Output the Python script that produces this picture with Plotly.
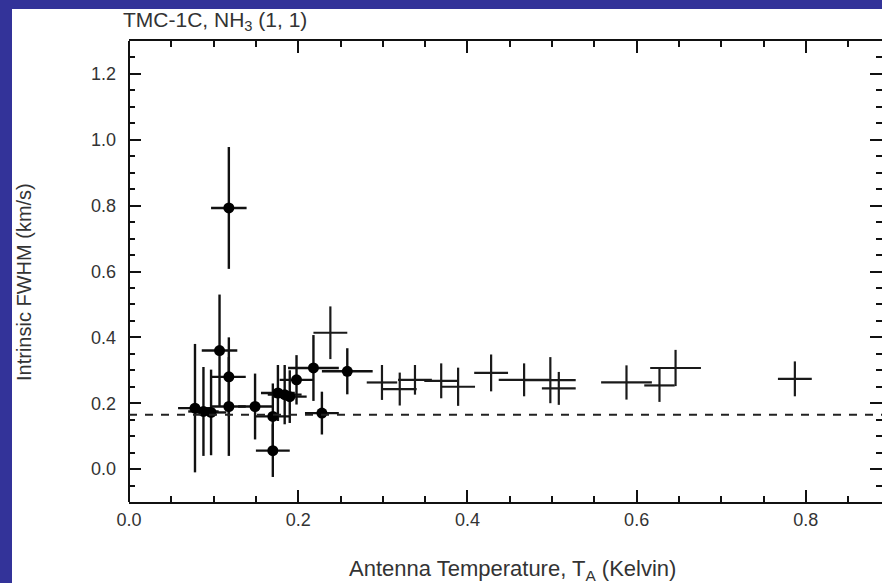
import plotly.graph_objects as go

# Filled points (with markers)
pt_x    = [0.078, 0.088, 0.097, 0.107, 0.118, 0.118, 0.118, 0.149, 0.170, 0.170, 0.176, 0.184, 0.190, 0.198, 0.218, 0.228, 0.258]
pt_y    = [0.185, 0.175, 0.172, 0.360, 0.280, 0.190, 0.793, 0.190, 0.160, 0.056, 0.231, 0.226, 0.220, 0.271, 0.307, 0.170, 0.297]
pt_xerr = [0.020, 0.018, 0.018, 0.021, 0.020, 0.020, 0.021, 0.020, 0.020, 0.020, 0.020, 0.020, 0.020, 0.020, 0.030, 0.020, 0.030]
pt_yerr = [0.195, 0.135, 0.130, 0.170, 0.120, 0.150, 0.185, 0.100, 0.100, 0.080, 0.085, 0.090, 0.080, 0.075, 0.100, 0.065, 0.070]

# Crosses (no markers)
cr_x    = [0.238, 0.299, 0.320, 0.338, 0.369, 0.389, 0.428, 0.467, 0.498, 0.508, 0.588, 0.627, 0.646, 0.787]
cr_y    = [0.414, 0.263, 0.243, 0.271, 0.268, 0.250, 0.292, 0.271, 0.270, 0.245, 0.263, 0.254, 0.307, 0.274]
cr_xerr = [0.020, 0.018, 0.020, 0.020, 0.020, 0.020, 0.020, 0.030, 0.030, 0.020, 0.030, 0.018, 0.030, 0.020]
cr_yerr = [0.080, 0.053, 0.050, 0.045, 0.053, 0.058, 0.056, 0.050, 0.070, 0.050, 0.052, 0.050, 0.055, 0.053]

baseline = 0.165

x_ticks = [0.0, 0.2, 0.4, 0.6, 0.8]
y_ticks = [0.0, 0.2, 0.4, 0.6, 0.8, 1.0, 1.2]

W, H = 882, 583
L, T, B, R = 129, 41, 81, 0
pw, ph = W - L - R, H - T - B

def px(xpix):
    return (xpix - L) / pw

def py(ypix):
    return (T + ph - ypix) / ph

fig = go.Figure()
fig.add_trace(go.Scatter(
    x=cr_x, y=cr_y, mode="markers",
    marker=dict(size=1, color="rgba(0,0,0,0)"),
    error_x=dict(type="data", array=cr_xerr, color="#1a1a1a", thickness=2.2, width=0),
    error_y=dict(type="data", array=cr_yerr, color="#1a1a1a", thickness=2.2, width=0),
    showlegend=False, hoverinfo="skip"))
fig.add_trace(go.Scatter(
    x=pt_x, y=pt_y, mode="markers",
    marker=dict(size=11, color="black", symbol="circle"),
    error_x=dict(type="data", array=pt_xerr, color="#111", thickness=2.4, width=0),
    error_y=dict(type="data", array=pt_yerr, color="#111", thickness=2.4, width=0),
    showlegend=False, hoverinfo="skip"))

tickfont = dict(family="Liberation Sans, Arial, sans-serif", size=18, color="#333")
common = dict(showgrid=False, zeroline=False, ticks="inside", ticklen=12, tickwidth=1.8,
              tickcolor="#111", linecolor="#111", linewidth=2,
              mirror="ticks", tickfont=tickfont, tickformat=".1f",
              minor=dict(ticks="inside", ticklen=6, tickwidth=1.8, tickcolor="#111", dtick=0.05))

fig.update_xaxes(range=[0, 0.89], tickvals=x_ticks, showline=True, ticklabelstandoff=0, **common)
fig.update_yaxes(range=[-0.1, 1.3], tickvals=y_ticks, showline=False, ticklabelstandoff=12, **common)

# left axis line (right side is off-image in the reference)
fig.add_shape(type="line", xref="paper", yref="paper", x0=0, x1=0, y0=0, y1=1,
              line=dict(color="#111", width=2), layer="above")

fig.add_shape(type="line", xref="paper", yref="y", x0=0, x1=1, y0=baseline, y1=baseline,
              line=dict(color="#222", width=2, dash="8px,8px"), layer="above")

blue = "#333399"
fig.add_shape(type="rect", xref="paper", yref="paper", x0=px(-5), x1=px(12), y0=py(H + 5), y1=py(-5),
              fillcolor=blue, line=dict(width=0), layer="above")
fig.add_shape(type="rect", xref="paper", yref="paper", x0=px(-5), x1=px(W + 5), y0=py(9), y1=py(-5),
              fillcolor=blue, line=dict(width=0), layer="above")

lab_font = dict(family="Liberation Sans, Arial, sans-serif", size=20, color="#333")
fig.add_annotation(text="TMC-1C, NH<sub>3</sub> (1, 1)", xref="paper", yref="paper",
                   x=px(121), y=py(21), xanchor="left", yanchor="middle", showarrow=False,
                   font=dict(lab_font, size=21))
fig.add_annotation(text="Intrinsic FWHM (km/s)", xref="paper", yref="paper", textangle=-90,
                   x=px(24), y=py(282), xanchor="center", yanchor="middle", showarrow=False, font=lab_font)
fig.add_annotation(text="Antenna Temperature, T<sub>A</sub> (Kelvin)", xref="paper", yref="paper",
                   x=px(512), y=py(570), xanchor="center", yanchor="middle", showarrow=False,
                   font=dict(lab_font, size=22))

fig.update_layout(width=W, height=H, margin=dict(l=L, r=R, t=T, b=B, pad=0),
                  paper_bgcolor="white", plot_bgcolor="white")

fig.write_html("out.html")
